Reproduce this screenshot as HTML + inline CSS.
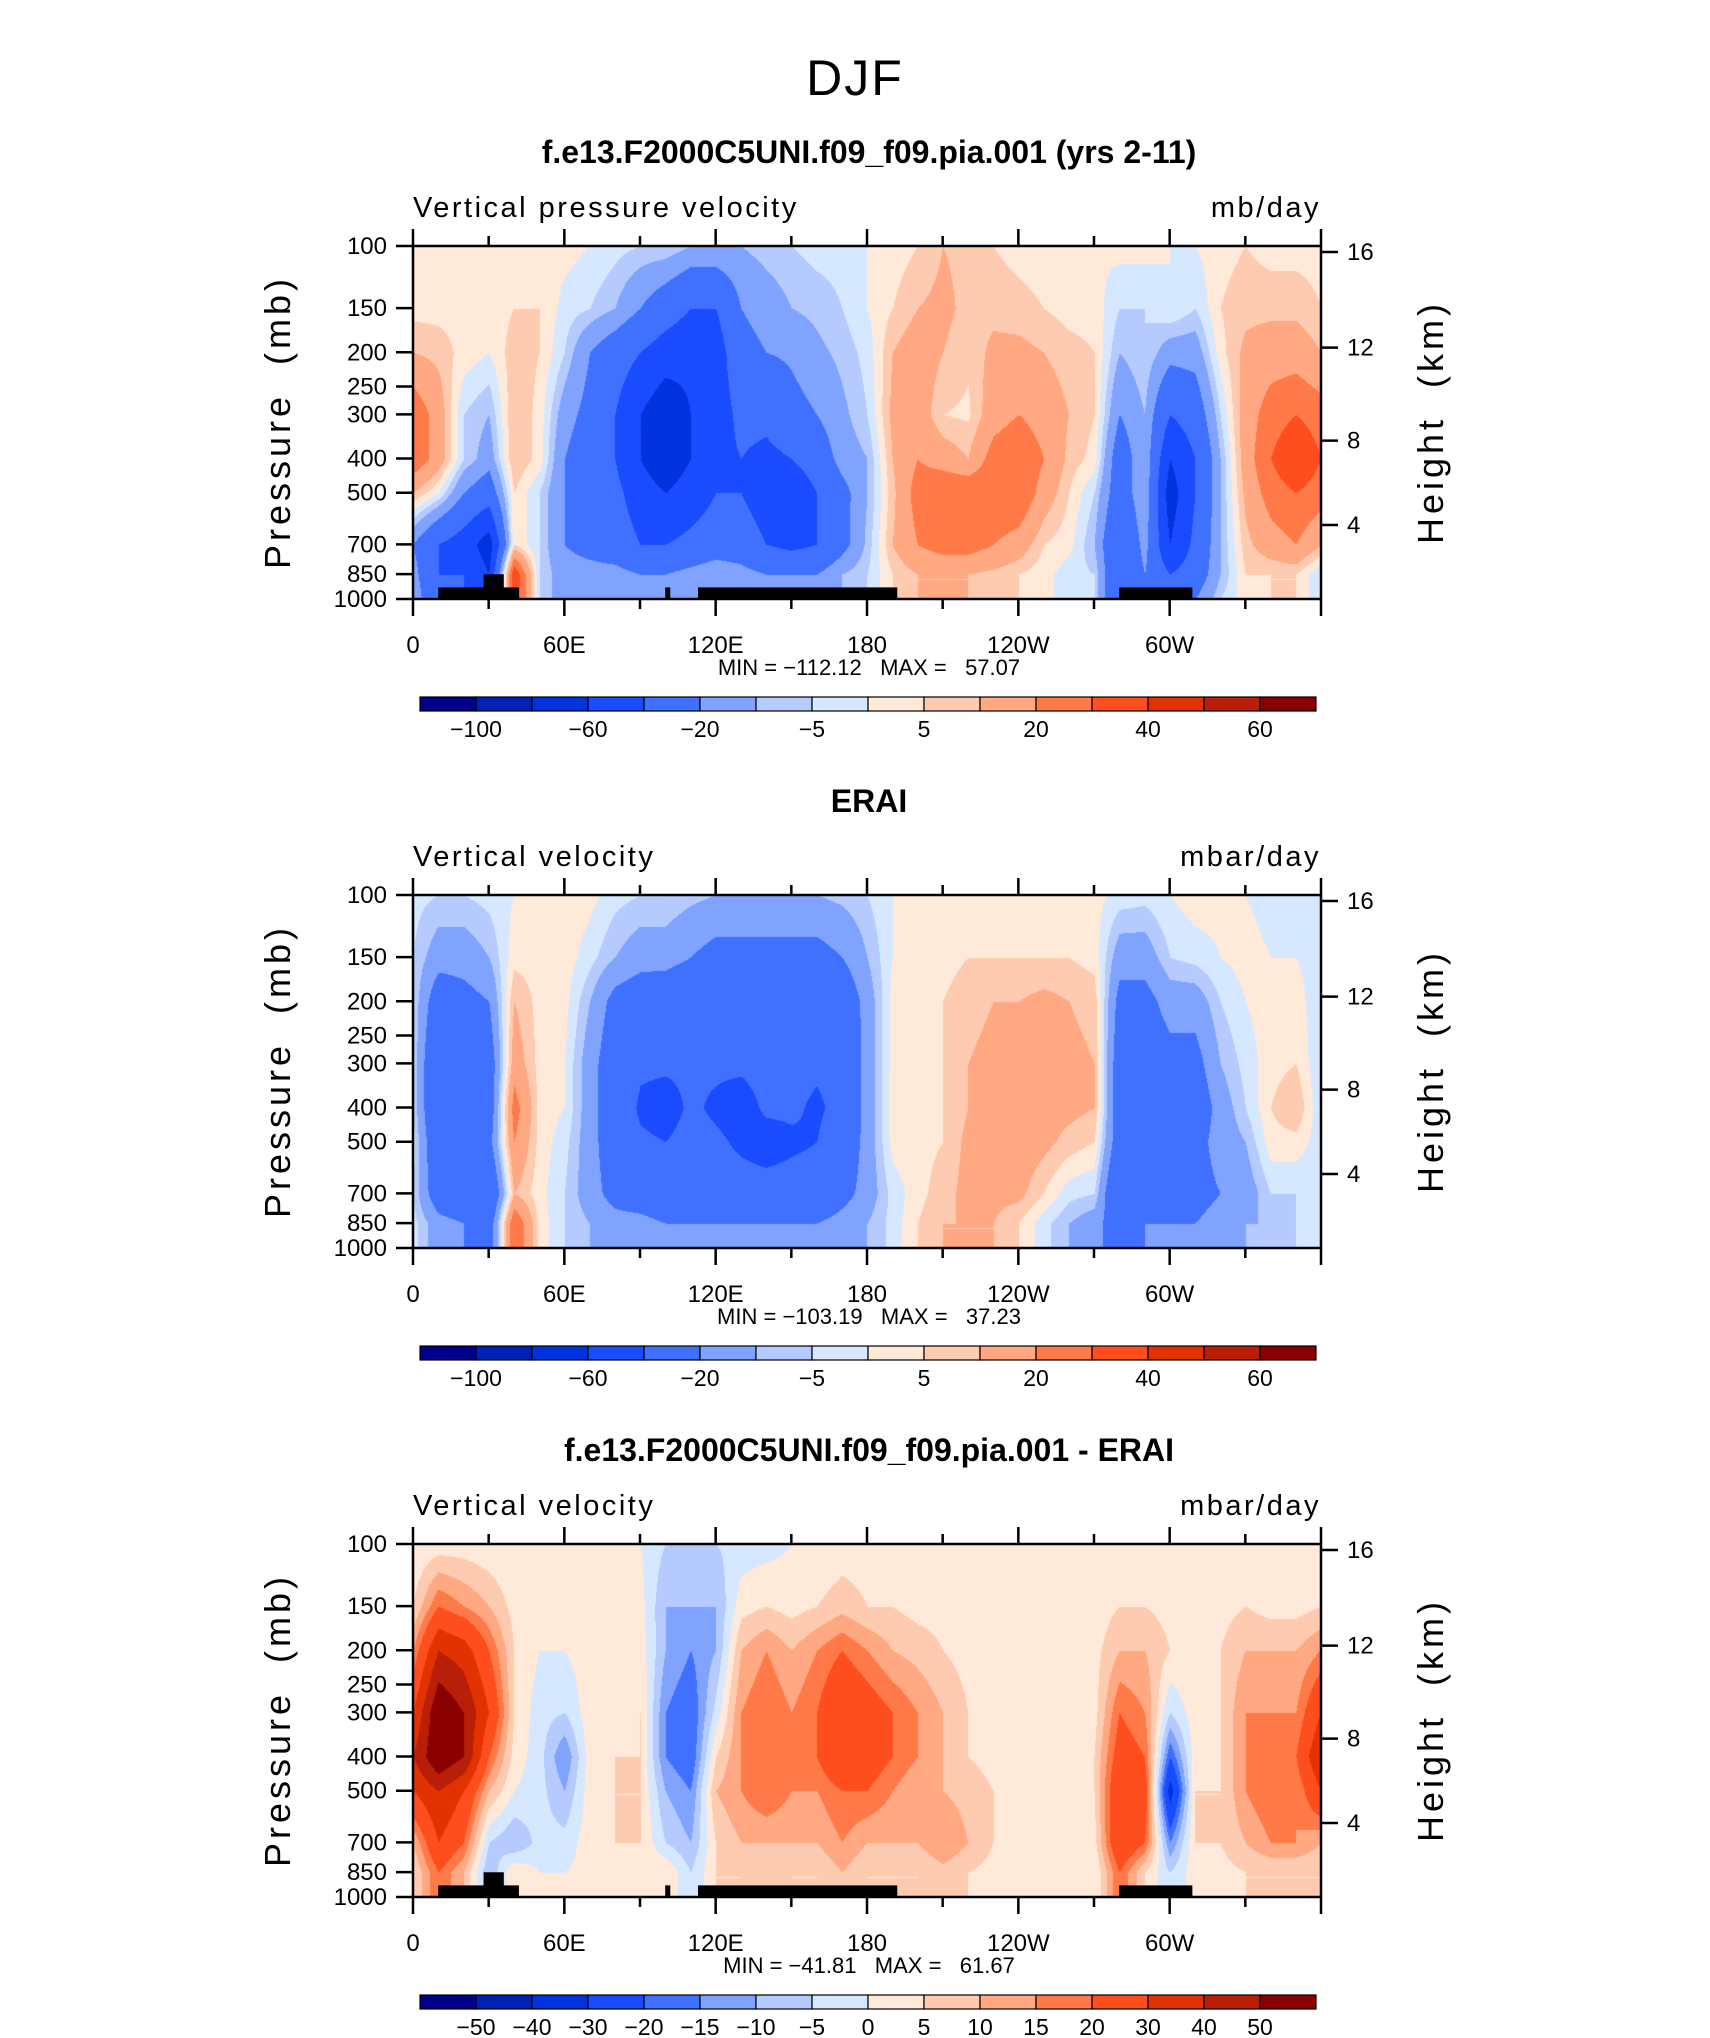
<!DOCTYPE html>
<html><head><meta charset="utf-8">
<style>
html,body{margin:0;padding:0;background:#fff;}
#root{position:relative;width:1710px;height:2038px;overflow:hidden;background:#fff;font-family:"Liberation Sans",sans-serif;}
canvas{position:absolute;}
svg{position:absolute;left:0;top:0;}
text{white-space:pre;}
</style></head>
<body>
<div id="root">
<svg id="svg" width="1710" height="2038"></svg>
</div>
<script>
// ---- data ----
const levels = [100,150,200,300,400,500,700,850,1000];
const lonTickLabels = ["0","60E","120E","180","120W","60W",""];
const lonTicks = [0,60,120,180,240,300,360];
const presTicks = [100,150,200,250,300,400,500,700,850,1000];
const heightTicks = [16,12,8,4];
const heightPres = [104,194,356,617];
const bounds12 = [-100,-80,-60,-40,-20,-10,-5,0,5,10,20,30,40,50,60];
const bounds3 = [-50,-40,-30,-20,-15,-10,-5,0,5,10,15,20,30,40,50];
const cbLabels12 = ["","-100","","-60","","-20","","-5","","5","","20","","40","","60"];
const cbLabels3 = ["-50","-40","-30","-20","-15","-10","-5","0","5","10","15","20","30","40","50"];
const colors = ["#00008a","#0022b4","#0033dd","#1a4cff","#4070ff","#7fa3ff","#b5cbff","#d6e8ff","#ffe9d9","#ffcbb0","#ffa882","#ff7a48","#ff4e1e","#e23200","#b81e08","#8a0000"];
const topo = [[10,42,927],[28,36,851],[100,102,927],[113,192,927],[280,309,927]];
const modelField = [
[2,3,10,28,28,10,-20,-15,-10],[3,3,8,15,15,0,-40,-40,-40],[2,3,3,-5,-5,-20,-50,-40,-40],[2,2,0,-10,-15,-30,-70,-60,-60],
[3,5,8,10,10,5,5,40,40],[2,5,5,3,3,-5,-5,-5,-5],[2,-2,-5,-15,-20,-20,-20,-15,-15],[0,-5,-20,-25,-30,-25,-25,-15,-15],
[-3,-10,-30,-40,-40,-35,-30,-15,-15],[-5,-20,-40,-60,-60,-50,-40,-20,-20],[-5,-30,-50,-75,-75,-60,-40,-20,-20],[-10,-40,-55,-60,-60,-50,-35,-15,-15],
[-10,-40,-50,-50,-45,-40,-30,-10,-10],[-10,-20,-25,-35,-40,-40,-30,-15,-15],[-7,-15,-20,-35,-45,-50,-40,-20,-20],[-5,-10,-18,-25,-40,-55,-45,-20,-20],
[-3,-8,-12,-20,-30,-40,-40,-20,-20],[-3,-5,-8,-12,-15,-25,-25,-10,-10],[0,0,-3,-5,-10,-10,-8,-5,-5],[2,5,10,12,10,8,10,5,5],
[5,10,15,15,20,25,20,10,10],[10,12,10,5,15,30,25,10,10],[8,8,6,4,10,30,25,10,10],[5,8,12,15,25,30,20,8,8],
[3,7,12,20,30,30,15,5,5],[2,5,10,15,20,15,5,2,2],[0,3,7,10,8,5,2,-3,-3],[0,3,5,5,3,-5,-10,-5,-5],
[2,-5,-10,-20,-30,-30,-40,-40,-40],[2,-5,-5,-10,-10,-10,-15,-20,-20],[0,0,-15,-40,-60,-70,-60,-40,-30],[0,-5,-15,-30,-40,-40,-35,-30,-20],
[3,5,3,-5,-10,-10,-10,-10,-5],[5,8,12,15,15,12,8,5,3],[3,8,15,25,30,25,15,5,5],[3,8,15,30,40,30,20,5,5],[3,5,10,25,30,25,10,-5,-5]];
const eraiField = [
[-3,-5,-5,-5,-5,-3,-5,-3,-3],[-5,-15,-30,-40,-40,-35,-30,-15,-15],[-5,-15,-25,-35,-40,-30,-35,-20,-20],[-3,-10,-20,-30,-30,-25,-40,-30,-30],
[0,3,10,15,25,20,10,30,30],[2,3,3,3,3,3,2,3,3],[3,3,2,0,0,-3,-5,-5,-5],[2,-3,-10,-15,-15,-15,-15,-10,-10],
[-3,-10,-25,-30,-30,-30,-25,-15,-15],[-5,-15,-30,-38,-42,-38,-30,-15,-15],[-5,-15,-32,-38,-45,-40,-35,-20,-20],[-8,-20,-35,-38,-38,-36,-35,-20,-20],
[-10,-25,-35,-38,-42,-38,-35,-20,-20],[-10,-25,-35,-38,-45,-42,-35,-20,-20],[-10,-25,-35,-36,-38,-45,-35,-20,-20],[-10,-25,-35,-36,-38,-42,-35,-20,-20],
[-10,-25,-35,-38,-42,-40,-35,-20,-20],[-8,-20,-32,-36,-36,-32,-25,-15,-15],[-5,-10,-15,-15,-15,-15,-15,-10,-10],[0,0,2,2,3,2,-3,-3,-3],
[2,3,5,3,3,3,3,5,5],[2,3,5,5,5,5,8,10,10],[2,5,8,10,10,12,12,10,10],[2,5,10,12,12,12,12,10,10],
[2,5,10,12,12,15,12,5,5],[2,5,12,12,12,12,5,-3,-3],[2,5,10,12,12,8,-3,-10,-10],[2,3,8,10,10,5,-5,-15,-15],
[-2,-15,-25,-30,-30,-30,-40,-30,-30],[-3,-15,-25,-30,-30,-30,-40,-20,-20],[0,-5,-15,-25,-30,-30,-30,-20,-20],[3,-3,-15,-25,-30,-25,-25,-20,-20],
[2,0,-5,-10,-15,-15,-20,-15,-15],[0,2,0,-3,-5,-10,-15,-10,-10],[-2,0,3,3,5,3,-5,-10,-10],[-3,0,3,5,10,3,-5,-5,-5],[-3,-3,-5,-5,-5,-3,-5,-3,-3]];
const diffField = [
[0,5,15,30,40,30,10,5,5],[2,20,40,60,60,40,30,20,20],[2,15,35,50,50,30,20,10,10],[1,10,20,30,20,10,-5,-10,-10],
[0,3,5,5,3,0,-10,5,5],[0,0,0,-3,-3,-3,-3,0,0],[0,0,0,-5,-15,-10,-3,0,0],[0,0,3,3,3,3,3,2,2],
[0,2,3,3,5,5,5,3,3],[0,2,3,5,5,5,5,3,3],[-5,-10,-10,-15,-15,-10,-5,5,5],[-5,-10,-15,-20,-20,-15,-10,-5,-5],
[-5,-10,-10,-3,5,10,5,5,5],[-3,3,10,15,15,15,10,5,5],[-2,5,15,20,20,20,10,8,8],[0,3,10,15,15,15,10,5,5],
[0,5,15,20,20,15,10,5,5],[2,8,20,30,30,20,15,10,10],[2,5,15,25,25,20,10,5,5],[2,5,10,20,20,15,10,5,5],
[2,3,8,15,15,10,10,5,5],[1,3,5,10,10,10,15,8,8],[1,2,3,5,5,8,10,5,5],[0,2,3,3,3,5,5,3,3],
[0,0,2,3,3,3,2,2,2],[0,0,2,2,2,2,2,2,2],[0,2,2,2,2,2,0,0,0],[0,2,3,3,5,5,3,0,0],
[0,5,10,20,25,30,30,20,20],[0,5,10,15,20,25,20,5,5],[0,3,5,-5,-20,-35,-15,-5,-5],[0,3,5,3,3,5,5,3,3],
[0,3,5,5,5,5,5,3,3],[0,5,10,15,15,15,10,5,5],[0,3,10,15,20,20,15,5,5],[0,3,10,15,20,15,15,5,5],[0,5,15,30,40,30,10,5,5]];
const panelTitles = ["f.e13.F2000C5UNI.f09_f09.pia.001 (yrs 2-11)","ERAI","f.e13.F2000C5UNI.f09_f09.pia.001 - ERAI"];
const varNames = ["Vertical pressure velocity","Vertical velocity","Vertical velocity"];
const units = ["mb/day","mbar/day","mbar/day"];
const minmax = ["MIN = \u2212112.12   MAX =   57.07","MIN = \u2212103.19   MAX =   37.23","MIN = \u221241.81   MAX =   61.67"];

// ---- layout ----
const L=413,R=1321,T0=246,H=353,W=R-L,DY=649;
const svg=document.getElementById('svg');
const root=document.getElementById('root');
const NS='http://www.w3.org/2000/svg';
function mk(tag,attrs,parent){const e=document.createElementNS(NS,tag);for(const k in attrs)e.setAttribute(k,attrs[k]);(parent||svg).appendChild(e);return e;}
function txt(s,x,y,size,anchor,parent,extra){const e=mk('text',Object.assign({x:x,y:y,'font-size':size,'text-anchor':anchor||'middle','font-family':'"Liberation Sans",sans-serif',fill:'#000'},extra||{}),parent);e.textContent=s;return e;}
const xScale=lon=>L+lon/360*W;
const yScale=(p,top)=>top+Math.log10(p/100)*H;
const NARROW='"Liberation Sans Narrow","Liberation Sans",sans-serif';

const t=txt("DJF",855,95,50,'middle',svg,{'letter-spacing':'2'});



function colorIdx(v,b){let i=0;while(i<b.length&&v>=b[i])i++;return i;}
const lls=levels.map(p=>Math.log10(p));
function sample(field,lon,lp){
  let fi=lon/10;let i0=Math.min(35,Math.floor(fi));let fx=fi-i0;
  let j0=0;while(j0<lls.length-2&&lp>lls[j0+1])j0++;
  let fy=(lp-lls[j0])/(lls[j0+1]-lls[j0]);fy=Math.max(0,Math.min(1,fy));
  const a=field[i0][j0],b=field[i0+1][j0],c=field[i0][j0+1],d=field[i0+1][j0+1];
  return (a*(1-fx)+b*fx)*(1-fy)+(c*(1-fx)+d*fx)*fy;
}
const fields=[modelField,eraiField,diffField];
for(let k=0;k<3;k++){
  const top=T0+k*DY;
  const bnds=k<2?bounds12:bounds3;
  const g=mk('g',{});
  
  
  const cv=document.createElement('canvas');cv.width=W;cv.height=H;cv.style.left=L+'px';cv.style.top=top+'px';
  
  
  root.insertBefore(cv,svg);
  const ctx=cv.getContext('2d');const img=ctx.createImageData(W,H);
  const rgb=colors.map(c=>[parseInt(c.substr(1,2),16),parseInt(c.substr(3,2),16),parseInt(c.substr(5,2),16)]);
  for(let y=0;y<H;y++){const lp=2+y/H;for(let x=0;x<W;x++){const v=sample(fields[k],x/W*360,lp);const c=rgb[colorIdx(v,bnds)];const o=(y*W+x)*4;img.data[o]=c[0];img.data[o+1]=c[1];img.data[o+2]=c[2];img.data[o+3]=255;}}
  ctx.putImageData(img,0,0);
  if(k!==1){for(const tb of topo){const r=mk('rect',{x:xScale(tb[0]),y:yScale(tb[2],top),width:xScale(tb[1])-xScale(tb[0]),height:yScale(1000,top)-yScale(tb[2],top),fill:'#000'},g);
    
    }}
  const fr=mk('rect',{x:L,y:top,width:W,height:H,fill:'none',stroke:'#000','stroke-width':2.5},g);
  
  
  for(let lon=0;lon<=360;lon+=30){const x=xScale(lon);const len=lon%60===0?17:10;
    mk('line',{x1:x,x2:x,y1:top+H,y2:top+H+len,stroke:'#000','stroke-width':2.5},g);
    mk('line',{x1:x,x2:x,y1:top,y2:top-len,stroke:'#000','stroke-width':2.5},g);}
  lonTicks.forEach((lon,i)=>{const e=txt(lonTickLabels[i],xScale(lon),top+H+54,24,'middle',g,{'font-family':NARROW});
    
    });
  presTicks.forEach(p=>{const y=yScale(p,top);mk('line',{x1:L-17,x2:L,y1:y,y2:y,stroke:'#000','stroke-width':2.5},g);
    const e=txt(String(p),L-26,y+8,24,'end',g,{'font-family':NARROW});
    
    });
  heightTicks.forEach((h,i)=>{const y=yScale(heightPres[i],top);mk('line',{x1:R,x2:R+17,y1:y,y2:y,stroke:'#000','stroke-width':2.5},g);
    const e=txt(String(h),R+26,y+8,24,'start',g,{'font-family':NARROW});
    
    });
  let e=txt("Pressure  (mb)",0,0,36,'middle',g,{transform:'translate(290,'+(top+176)+') rotate(-90)','letter-spacing':'4'});
  
  
  e=txt("Height  (km)",0,0,36,'middle',g,{transform:'translate(1443,'+(top+176)+') rotate(-90)','letter-spacing':'4'});
  
  
  e=txt(panelTitles[k],869,top-83,32,'middle',g,{'font-weight':'bold'});
  
  
  e=txt(varNames[k],L,top-29,29,'start',g,{'letter-spacing':'2.5'});
  
  
  e=txt(units[k],R,top-29,29,'end',g,{'letter-spacing':'2.5'});
  
  
  e=txt(minmax[k],869,top+H+76,22,'middle',g,{'font-family':NARROW});
  
  
  const cbL=420,cbR=1316,cbT=top+451,cbH=14,bw=(cbR-cbL)/16;
  colors.forEach((c,i)=>{const r=mk('rect',{x:cbL+i*bw,y:cbT,width:bw,height:cbH,fill:c,stroke:'#000','stroke-width':1.2},g);
    
    });
  const labs=k<2?cbLabels12.slice(1):cbLabels3;
  labs.forEach((s,i)=>{if(!s)return;const e2=txt(s.replace('-','\u2212'),cbL+(i+1)*bw,cbT+40,23,'middle',g,{'font-family':NARROW});
    
    });
}
</script>
</body></html>
